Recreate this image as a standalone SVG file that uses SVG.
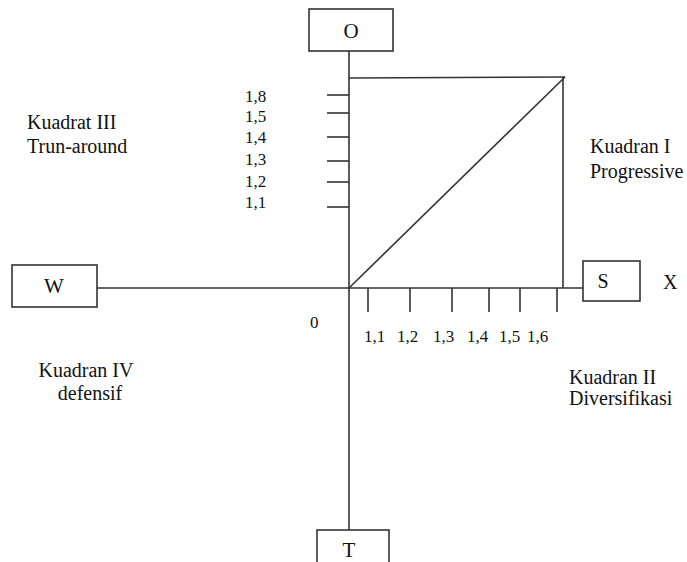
<svg xmlns="http://www.w3.org/2000/svg" width="687" height="562" viewBox="0 0 687 562">
<style>
.ln{stroke:#333;stroke-width:1.6;fill:none}
.bx{stroke:#333;stroke-width:1.6;fill:#fff}
text{font-family:"Liberation Serif","Times New Roman",serif;fill:#111}
.lb{font-size:20px}
.nm{font-size:17px}
.bt{font-size:21px;text-anchor:middle}
</style>
<rect width="687" height="562" fill="#fff"/>
<g id="connectors">
<line class="ln" x1="349" y1="51" x2="349" y2="530"/>
<line class="ln" x1="97" y1="288" x2="583" y2="288"/>
<line class="ln" x1="349" y1="78" x2="565" y2="77"/>
<line class="ln" x1="563" y1="77" x2="563" y2="288"/>
<line class="ln" x1="349" y1="288" x2="565" y2="77"/>
<g id="yticks">
<line class="ln" x1="327" y1="95" x2="349" y2="95"/>
<line class="ln" x1="327" y1="113" x2="349" y2="113"/>
<line class="ln" x1="327" y1="137" x2="349" y2="137"/>
<line class="ln" x1="327" y1="161" x2="349" y2="161"/>
<line class="ln" x1="327" y1="182" x2="349" y2="182"/>
<line class="ln" x1="327" y1="207" x2="349" y2="207"/>
</g>
<g id="xticks">
<line class="ln" x1="368" y1="288" x2="368" y2="312"/>
<line class="ln" x1="410" y1="288" x2="410" y2="312"/>
<line class="ln" x1="452" y1="288" x2="452" y2="312"/>
<line class="ln" x1="489" y1="288" x2="489" y2="312"/>
<line class="ln" x1="520" y1="288" x2="520" y2="312"/>
<line class="ln" x1="557" y1="288" x2="557" y2="312"/>
</g>
</g>
<g id="node-O"><rect class="bx" x="309" y="9" width="84" height="42"/><text class="bt" x="351" y="38">O</text></g>
<g id="node-S"><rect class="bx" x="583" y="261" width="57" height="40"/><text class="bt" x="603" y="288" style="font-size:20px">S</text></g>
<g id="node-W"><rect class="bx" x="12" y="265" width="85" height="42"/><text class="bt" x="54" y="293">W</text></g>
<g id="node-T"><rect class="bx" x="317" y="530" width="72" height="40"/><text class="bt" x="349" y="557">T</text></g>
<g id="labels">
<text class="nm" x="310" y="328">0</text>
<text class="lb" x="663" y="289">X</text>
<text class="nm" x="245" y="102">1,8</text>
<text class="nm" x="245" y="122">1,5</text>
<text class="nm" x="245" y="143">1,4</text>
<text class="nm" x="245" y="165">1,3</text>
<text class="nm" x="245" y="187">1,2</text>
<text class="nm" x="245" y="208">1,1</text>
<text class="nm" x="364" y="342">1,1</text>
<text class="nm" x="397" y="342">1,2</text>
<text class="nm" x="433" y="342">1,3</text>
<text class="nm" x="467" y="342">1,4</text>
<text class="nm" x="499" y="342">1,5</text>
<text class="nm" x="527" y="342">1,6</text>
<text class="lb" x="27" y="129">Kuadrat III</text>
<text class="lb" x="27" y="153">Trun-around</text>
<text class="lb" x="590" y="153">Kuadran I</text>
<text class="lb" x="590" y="178">Progressive</text>
<text class="lb" x="86" y="377" text-anchor="middle">Kuadran IV</text>
<text class="lb" x="90" y="400" text-anchor="middle">defensif</text>
<text class="lb" x="569" y="384">Kuadran II</text>
<text class="lb" x="569" y="405">Diversifikasi</text>
</g>
</svg>
